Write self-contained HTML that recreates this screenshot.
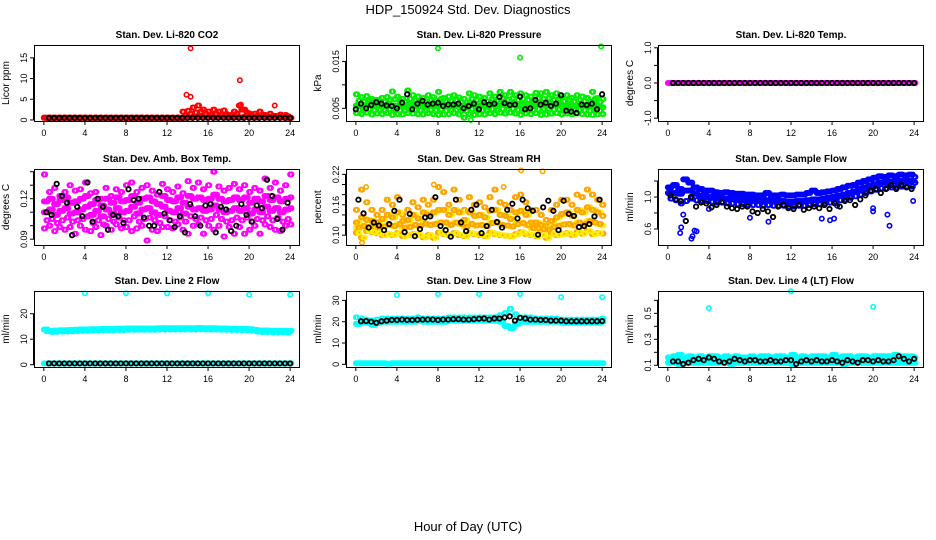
<!DOCTYPE html>
<html><head><meta charset="utf-8"><style>
body{margin:0;background:#fff}
svg{display:block;font-family:"Liberation Sans",Arial,sans-serif}
</style></head><body>
<svg id="c" width="936" height="540">
<text x="468" y="14" font-size="13" text-anchor="middle">HDP_150924  Std. Dev. Diagnostics</text>
<text x="468" y="531" font-size="13" text-anchor="middle">Hour of Day (UTC)</text>
</svg>
<script>
// ---- data (x = 0..24 step 0.5 for 49-value arrays) ----
const co2Base=[0.5,0.5,0.5,0.5,0.5,0.5,0.5,0.5,0.5,0.5,0.5,0.5,0.5,0.5,0.5,0.5,0.5,0.5,0.5,0.5,0.5,0.5,0.5,0.5,0.5,0.5,0.5,0.5,0.6,0.8,0.7,0.6,0.7,0.6,0.7,0.6,0.6,0.7,0.6,0.8,0.6,0.6,0.7,0.6,0.6,0.7,0.6,0.5,0.5];
const co2Hi=[0.6,0.6,0.6,0.6,0.6,0.6,0.6,0.6,0.6,0.6,0.6,0.6,0.6,0.6,0.6,0.6,0.6,0.6,0.6,0.6,0.6,0.6,0.6,0.6,0.6,0.6,0.6,2.0,2.2,3.0,3.5,2.5,2.0,2.5,2.0,2.3,1.2,2.0,3.5,2.5,1.5,1.5,2.0,1.2,1.5,1.0,1.3,1.2,0.5];
const co2Mid=[0.5,0.5,0.5,0.5,0.5,0.5,0.5,0.5,0.5,0.5,0.5,0.5,0.5,0.5,0.5,0.5,0.5,0.5,0.5,0.5,0.5,0.5,0.5,0.5,0.5,0.5,0.5,1.0,1.5,1.8,2.0,1.5,1.2,1.5,1.2,1.4,0.9,1.5,2.5,1.8,1.0,1.0,1.3,0.9,1.0,0.8,1.0,0.9,0.5];
const co2OutX=[14.3,13.9,14.3,19.1,19.2,22.5];
const co2OutY=[17.3,6.1,5.6,9.6,3.7,3.5];
const co2Black=[0.5,0.5,0.5,0.5,0.5,0.5,0.5,0.5,0.5,0.5,0.5,0.5,0.5,0.5,0.5,0.5,0.5,0.5,0.5,0.5,0.5,0.5,0.5,0.5,0.5,0.5,0.5,0.5,0.5,0.5,0.5,0.5,0.5,0.5,0.5,0.5,0.5,0.5,0.5,0.5,0.5,0.5,0.5,0.5,0.5,0.5,0.5,0.5];

const prHi=[0.0080,0.0074,0.0076,0.0070,0.0068,0.0072,0.0074,0.0086,0.0075,0.0070,0.0088,0.0078,0.0075,0.0072,0.0078,0.0074,0.0085,0.0072,0.0075,0.0078,0.0073,0.0070,0.0082,0.0078,0.0075,0.0072,0.0082,0.0075,0.0085,0.0078,0.0085,0.0078,0.0082,0.0078,0.0075,0.0083,0.0082,0.0085,0.0078,0.0082,0.0074,0.0078,0.0072,0.0078,0.0075,0.0072,0.0085,0.0072,0.0070];
const prM1=[0.0066,0.0064,0.0068,0.0062,0.0066,0.0064,0.0068,0.0070,0.0066,0.0063,0.0070,0.0067,0.0066,0.0064,0.0068,0.0066,0.0070,0.0064,0.0066,0.0068,0.0064,0.0062,0.0070,0.0068,0.0066,0.0064,0.0070,0.0066,0.0072,0.0068,0.0072,0.0068,0.0070,0.0068,0.0066,0.0071,0.0070,0.0072,0.0068,0.0070,0.0065,0.0068,0.0064,0.0068,0.0066,0.0064,0.0070,0.0064,0.0062];
const prMid=[0.0056,0.0054,0.0058,0.0055,0.0057,0.0054,0.0058,0.0056,0.0055,0.0053,0.0058,0.0056,0.0055,0.0054,0.0057,0.0055,0.0058,0.0054,0.0055,0.0057,0.0054,0.0052,0.0058,0.0056,0.0055,0.0054,0.0058,0.0055,0.0060,0.0057,0.0060,0.0057,0.0058,0.0057,0.0055,0.0059,0.0058,0.0060,0.0057,0.0058,0.0054,0.0057,0.0054,0.0057,0.0055,0.0054,0.0058,0.0054,0.0052];
const prM2=[0.0047,0.0046,0.0048,0.0046,0.0047,0.0045,0.0048,0.0047,0.0046,0.0045,0.0048,0.0047,0.0046,0.0045,0.0047,0.0046,0.0048,0.0045,0.0046,0.0047,0.0045,0.0044,0.0048,0.0047,0.0046,0.0045,0.0048,0.0046,0.0049,0.0047,0.0049,0.0047,0.0048,0.0047,0.0046,0.0048,0.0048,0.0049,0.0047,0.0048,0.0045,0.0047,0.0045,0.0047,0.0046,0.0045,0.0048,0.0045,0.0044];
const prLo=[0.0040,0.0038,0.0041,0.0037,0.0039,0.0038,0.0040,0.0036,0.0038,0.0037,0.0040,0.0039,0.0038,0.0037,0.0040,0.0038,0.0036,0.0037,0.0038,0.0040,0.0037,0.0030,0.0038,0.0036,0.0038,0.0037,0.0040,0.0038,0.0041,0.0039,0.0041,0.0039,0.0036,0.0039,0.0038,0.0040,0.0036,0.0037,0.0039,0.0040,0.0037,0.0039,0.0037,0.0039,0.0038,0.0037,0.0036,0.0037,0.0038];
const prOutX=[8.0,16.0,23.9,11.2];
const prOutY=[0.0178,0.0158,0.0182,0.0025];
const prBlack=[0.0048,0.0060,0.0050,0.0057,0.0063,0.0060,0.0056,0.0055,0.0050,0.0062,0.0080,0.0048,0.0060,0.0066,0.0058,0.0060,0.0062,0.0055,0.0058,0.0058,0.0060,0.0050,0.0055,0.0060,0.0048,0.0063,0.0058,0.0060,0.0074,0.0061,0.0057,0.0058,0.0075,0.0048,0.0050,0.0068,0.0058,0.0062,0.0055,0.0060,0.0078,0.0045,0.0043,0.0040,0.0058,0.0057,0.0060,0.0048,0.0080];

const tmpMag=[0,0,0,0,0,0,0,0,0,0,0,0,0,0,0,0,0,0,0,0,0,0,0,0,0,0,0,0,0,0,0,0,0,0,0,0,0,0,0,0,0,0,0,0,0,0,0,0,0];
const tmpBlack=[0,0,0,0,0,0,0,0,0,0,0,0,0,0,0,0,0,0,0,0,0,0,0,0,0,0,0,0,0,0,0,0,0,0,0,0,0,0,0,0,0,0,0,0,0,0,0,0,0];

const ambHi=[0.138,0.125,0.128,0.122,0.125,0.130,0.126,0.127,0.132,0.124,0.125,0.120,0.128,0.122,0.127,0.125,0.130,0.132,0.125,0.128,0.130,0.126,0.123,0.131,0.127,0.125,0.129,0.124,0.133,0.128,0.132,0.127,0.130,0.140,0.129,0.126,0.128,0.131,0.127,0.130,0.125,0.128,0.126,0.135,0.128,0.132,0.126,0.130,0.138];
const ambM1=[0.118,0.120,0.116,0.119,0.121,0.117,0.118,0.120,0.122,0.116,0.119,0.115,0.120,0.117,0.121,0.118,0.119,0.122,0.117,0.120,0.121,0.118,0.116,0.122,0.119,0.118,0.121,0.117,0.122,0.120,0.121,0.119,0.120,0.123,0.120,0.118,0.119,0.121,0.119,0.121,0.117,0.120,0.118,0.122,0.119,0.121,0.118,0.120,0.121];
const ambMid=[0.110,0.112,0.108,0.111,0.113,0.109,0.110,0.112,0.114,0.108,0.111,0.107,0.112,0.109,0.113,0.110,0.111,0.114,0.109,0.112,0.113,0.110,0.108,0.114,0.111,0.110,0.113,0.109,0.114,0.112,0.113,0.111,0.112,0.115,0.112,0.110,0.111,0.113,0.111,0.113,0.109,0.112,0.110,0.114,0.111,0.113,0.110,0.112,0.113];
const ambM2=[0.104,0.105,0.102,0.104,0.106,0.103,0.104,0.105,0.107,0.102,0.104,0.101,0.105,0.103,0.106,0.104,0.104,0.107,0.103,0.105,0.106,0.104,0.102,0.107,0.104,0.103,0.106,0.103,0.107,0.105,0.106,0.104,0.105,0.108,0.105,0.103,0.104,0.106,0.104,0.106,0.103,0.105,0.104,0.107,0.104,0.106,0.103,0.105,0.106];
const ambLo=[0.098,0.100,0.096,0.099,0.097,0.099,0.094,0.100,0.097,0.096,0.099,0.093,0.100,0.097,0.101,0.098,0.099,0.096,0.098,0.100,0.089,0.097,0.096,0.099,0.099,0.098,0.101,0.097,0.094,0.100,0.101,0.094,0.100,0.097,0.100,0.092,0.099,0.094,0.099,0.094,0.097,0.100,0.094,0.101,0.099,0.097,0.096,0.100,0.101];
const ambBlack=[0.110,0.108,0.131,0.122,0.117,0.093,0.114,0.107,0.132,0.103,0.120,0.114,0.097,0.108,0.107,0.102,0.127,0.119,0.120,0.106,0.100,0.100,0.125,0.109,0.104,0.099,0.107,0.095,0.116,0.107,0.100,0.115,0.116,0.095,0.114,0.112,0.096,0.100,0.116,0.108,0.103,0.115,0.113,0.134,0.122,0.105,0.097,0.117,0.118];

const rhHi=[0.150,0.190,0.165,0.150,0.140,0.150,0.170,0.160,0.175,0.140,0.150,0.165,0.155,0.170,0.160,0.170,0.195,0.185,0.160,0.190,0.170,0.150,0.175,0.160,0.165,0.155,0.175,0.190,0.165,0.160,0.150,0.175,0.180,0.165,0.150,0.150,0.140,0.130,0.150,0.160,0.170,0.170,0.160,0.180,0.175,0.190,0.180,0.170,0.160];
const rhM1=[0.125,0.135,0.130,0.128,0.125,0.132,0.140,0.135,0.145,0.128,0.130,0.140,0.133,0.145,0.140,0.145,0.150,0.150,0.140,0.150,0.145,0.130,0.145,0.138,0.140,0.135,0.148,0.150,0.140,0.138,0.132,0.145,0.148,0.140,0.125,0.125,0.120,0.118,0.128,0.135,0.142,0.145,0.138,0.150,0.145,0.155,0.150,0.145,0.138];
const rhMid=[0.115,0.118,0.116,0.115,0.114,0.117,0.120,0.118,0.122,0.115,0.116,0.120,0.118,0.123,0.120,0.122,0.125,0.125,0.120,0.125,0.122,0.116,0.122,0.119,0.120,0.118,0.124,0.125,0.120,0.119,0.117,0.122,0.124,0.120,0.114,0.114,0.112,0.111,0.116,0.118,0.121,0.122,0.119,0.125,0.122,0.128,0.125,0.122,0.119];
const rhLo=[0.105,0.095,0.108,0.106,0.104,0.100,0.102,0.100,0.104,0.098,0.100,0.102,0.100,0.096,0.100,0.095,0.105,0.102,0.100,0.104,0.100,0.098,0.104,0.102,0.100,0.098,0.105,0.102,0.100,0.099,0.098,0.102,0.106,0.102,0.100,0.098,0.100,0.095,0.103,0.100,0.102,0.104,0.100,0.106,0.103,0.108,0.102,0.104,0.103];
const rhOutX=[0.6,1.0,16.1,18.2,7.6,14.4];
const rhOutY=[0.085,0.195,0.228,0.226,0.200,0.195];
const rhBlack=[0.170,0.143,0.115,0.125,0.119,0.110,0.122,0.148,0.170,0.106,0.142,0.098,0.112,0.135,0.137,0.175,0.118,0.110,0.097,0.170,0.125,0.108,0.150,0.160,0.104,0.118,0.150,0.126,0.115,0.150,0.162,0.133,0.170,0.153,0.148,0.101,0.155,0.168,0.148,0.110,0.168,0.142,0.138,0.116,0.118,0.122,0.137,0.170,0.118];

const sfHi=[1.12,1.15,1.10,1.22,1.18,1.12,1.10,1.08,1.08,1.06,1.05,1.06,1.05,1.04,1.04,1.03,1.03,1.02,1.02,1.05,1.02,1.02,1.03,1.02,1.02,1.03,1.03,1.05,1.08,1.05,1.06,1.07,1.08,1.10,1.12,1.14,1.15,1.18,1.20,1.22,1.24,1.26,1.25,1.27,1.26,1.28,1.27,1.28,1.25];
const sfMid=[1.05,1.05,1.04,1.08,1.08,1.04,1.02,1.01,1.00,0.99,0.99,0.98,0.98,0.97,0.97,0.96,0.96,0.96,0.95,0.96,0.95,0.95,0.95,0.94,0.94,0.95,0.95,0.96,0.97,0.97,0.98,0.99,1.00,1.02,1.03,1.05,1.07,1.10,1.12,1.14,1.16,1.18,1.18,1.19,1.19,1.20,1.20,1.20,1.18];
const sfLo=[0.98,0.96,0.92,0.95,0.98,0.96,0.95,0.95,0.94,0.93,0.93,0.92,0.92,0.91,0.91,0.90,0.90,0.90,0.89,0.90,0.89,0.89,0.89,0.88,0.88,0.89,0.89,0.90,0.91,0.91,0.92,0.93,0.94,0.96,0.97,0.99,1.01,1.03,1.05,1.07,1.09,1.11,1.11,1.12,1.12,1.13,1.13,1.13,1.12];
const sfOutX=[1.2,1.3,1.5,2.3,2.4,2.6,2.8,8.0,9.8,15.0,15.8,16.2,20.0,20.0,21.4,21.6,23.9,4.0,16.5];
const sfOutY=[0.55,0.62,0.78,0.48,0.51,0.58,0.57,0.74,0.69,0.73,0.71,0.73,0.86,0.82,0.78,0.64,0.95,0.85,0.89];
const sfBlack=[1.02,0.97,0.95,0.70,1.00,0.88,0.93,0.92,0.87,0.90,0.94,0.88,0.86,0.85,0.88,0.88,0.82,0.80,0.85,0.82,0.75,0.88,0.90,0.86,0.85,0.90,0.84,0.86,0.88,0.86,0.90,0.85,0.92,0.88,0.95,0.96,0.90,0.97,1.02,1.08,1.10,1.05,1.10,1.15,1.10,1.15,1.12,1.10,1.12];

const l2Hi=[13.8,13.2,13.4,13.5,13.5,13.6,13.7,13.8,13.8,13.9,13.9,14.0,14.0,14.0,14.1,14.1,14.2,14.2,14.2,14.2,14.2,14.2,14.3,14.3,14.3,14.3,14.3,14.3,14.3,14.3,14.4,14.3,14.3,14.3,14.2,14.2,14.1,14.1,14.0,14.0,13.9,13.6,13.4,13.4,13.3,13.3,13.3,13.2,13.3];
const l2Lo=[13.2,12.8,12.9,13.0,13.0,13.1,13.2,13.3,13.3,13.4,13.4,13.5,13.5,13.5,13.6,13.6,13.7,13.7,13.7,13.7,13.7,13.7,13.8,13.8,13.8,13.8,13.8,13.8,13.8,13.8,13.9,13.8,13.8,13.8,13.7,13.7,13.6,13.6,13.5,13.5,13.4,13.0,12.8,12.8,12.7,12.7,12.7,12.6,12.8];
const l2Base=[0.5,0.5,0.5,0.5,0.5,0.5,0.5,0.5,0.5,0.5,0.5,0.5,0.5,0.5,0.5,0.5,0.5,0.5,0.5,0.5,0.5,0.5,0.5,0.5,0.5,0.5,0.5,0.5,0.5,0.5,0.5,0.5,0.5,0.5,0.5,0.5,0.5,0.5,0.5,0.5,0.5,0.5,0.5,0.5,0.5,0.5,0.5,0.5,0.5];
const l2OutX=[4,8,12,16,20,24];
const l2OutY=[28,28,28,28,27.5,27.5];
const l2Black=[0.5,0.5,0.5,0.5,0.5,0.5,0.5,0.5,0.5,0.5,0.5,0.5,0.5,0.5,0.5,0.5,0.5,0.5,0.5,0.5,0.5,0.5,0.5,0.5,0.5,0.5,0.5,0.5,0.5,0.5,0.5,0.5,0.5,0.5,0.5,0.5,0.5,0.5,0.5,0.5,0.5,0.5,0.5,0.5,0.5,0.5,0.5,0.5,0.5];

const l3Hi=[22,21.5,21,20.5,21,21.5,21.5,21.5,21.5,21.5,21.5,21.5,22,21.5,21.5,21.5,21.5,21.5,22,22,22,22,22,22,22,22,22,22,23,24,26,23.5,22,22,22,21.5,21.5,21.5,21.5,21.5,21,21,21,21,21,21,21,21,21.5];
const l3Lo=[19,19.5,19.5,18.5,19.5,20,20,20,20,20,20,20,20.5,20,20,20,20,20,20.5,20.5,20.5,20.5,20.5,20.5,20.5,20.5,20.5,20.5,20,18,17,19,20,20,20,20,20,20,20,20,19.5,19.5,19.5,19.5,19.5,19.5,19.5,19.5,20];
const l3Base=[0.5,0.5,0.5,0.5,0.5,0.5,0.3,0.5,0.5,0.5,0.5,0.5,0.5,0.5,0.5,0.5,0.5,0.5,0.5,0.5,0.5,0.5,0.5,0.5,0.5,0.5,0.5,0.5,0.5,0.5,0.5,0.5,0.5,0.5,0.5,0.5,0.5,0.5,0.5,0.5,0.5,0.5,0.5,0.5,0.5,0.5,0.5,0.5,0.5];
const l3OutX=[4,8,12,16,20,24];
const l3OutY=[32.5,33,33,33,31.5,31.5];
const l3Black=[20.2,20.3,20.0,19.5,20.2,20.5,20.8,20.8,21.0,20.8,20.8,20.9,21.0,21.0,21.0,20.8,21.0,21.0,21.2,21.2,21.0,21.0,21.2,21.4,21.5,21.0,21.5,21.5,22.0,22.5,20.5,21.8,21.5,21.0,21.0,20.8,20.8,20.5,20.5,20.5,20.2,20.2,20.2,20.2,20.2,20.2,20.2,20.3,20.8];

const l4Hi=[0.16,0.17,0.18,0.16,0.17,0.16,0.17,0.16,0.17,0.17,0.16,0.17,0.16,0.17,0.16,0.16,0.17,0.16,0.17,0.17,0.16,0.17,0.17,0.16,0.18,0.16,0.17,0.16,0.17,0.17,0.17,0.16,0.18,0.16,0.17,0.17,0.16,0.17,0.17,0.16,0.17,0.17,0.17,0.17,0.18,0.17,0.17,0.17,0.16];
const l4Mid=[0.14,0.14,0.14,0.14,0.14,0.14,0.14,0.14,0.14,0.14,0.14,0.14,0.14,0.14,0.14,0.14,0.14,0.14,0.14,0.14,0.14,0.14,0.14,0.14,0.14,0.14,0.14,0.14,0.14,0.14,0.14,0.14,0.14,0.14,0.14,0.14,0.14,0.14,0.14,0.14,0.14,0.14,0.14,0.14,0.15,0.14,0.14,0.14,0.14];
const l4Lo=[0.12,0.12,0.11,0.12,0.12,0.12,0.12,0.12,0.12,0.12,0.12,0.12,0.11,0.12,0.12,0.12,0.12,0.12,0.12,0.12,0.12,0.12,0.12,0.12,0.11,0.12,0.12,0.12,0.12,0.12,0.12,0.12,0.12,0.12,0.11,0.12,0.12,0.12,0.12,0.12,0.12,0.12,0.12,0.12,0.12,0.12,0.12,0.12,0.12];
const l4OutX=[4,12,20];
const l4OutY=[0.54,0.67,0.55];
const l4Black=[0.13,0.13,0.11,0.12,0.14,0.15,0.14,0.16,0.15,0.13,0.12,0.13,0.15,0.14,0.13,0.14,0.14,0.13,0.13,0.14,0.13,0.13,0.14,0.14,0.11,0.13,0.14,0.13,0.14,0.13,0.13,0.14,0.13,0.12,0.14,0.13,0.12,0.14,0.14,0.13,0.14,0.13,0.13,0.14,0.17,0.15,0.13,0.15,0.14];

const NS='http://www.w3.org/2000/svg';
const svg=document.getElementById('c');
const COLS=[34,346,658], ROWS=[45,169,291], PW=266, PH=76;
function mk(tag,attrs,parent){const e=document.createElementNS(NS,tag);for(const k in attrs)e.setAttribute(k,attrs[k]);(parent||svg).appendChild(e);return e;}
function panel(col,row,title,ylab,ymin,ymax,ticks,labels,series){
  const L=COLS[col],T=ROWS[row];
  const g=mk('g',{});
  
  
  const xs=h=>L+(h+0.96)/25.92*PW;
  const ys=v=>T+PH-(v-ymin)/(ymax-ymin)*PH;
  const tt=mk('text',{x:L+PW/2,y:T-7,'font-size':10,'font-weight':'bold','text-anchor':'middle'},g);tt.textContent=title;
  
  
  const yl=mk('text',{x:0,y:0,'font-size':10,'text-anchor':'middle',transform:`translate(${L-25},${T+PH/2}) rotate(-90)`},g);yl.textContent=ylab;
  
  
  const xa=mk('g',{},g);
  
  
  mk('line',{x1:xs(0),x2:xs(24),y1:T+PH+0.5,y2:T+PH+0.5,stroke:'#000'},xa);
  for(let h=0;h<=24;h+=4){
    mk('line',{x1:xs(h),x2:xs(h),y1:T+PH,y2:T+PH+4,stroke:'#000'},xa);
    const t=mk('text',{x:xs(h),y:T+PH+15,'font-size':9,'text-anchor':'middle'},xa);t.textContent=h;
  }
  const ya=mk('g',{},g);
  
  
  mk('line',{x1:L-0.5,x2:L-0.5,y1:ys(ticks[0]),y2:ys(ticks[ticks.length-1]),stroke:'#000'},ya);
  ticks.forEach((v,i)=>{
    mk('line',{x1:L-4,x2:L,y1:ys(v),y2:ys(v),stroke:'#000'},ya);
    if(labels[i]){const t=mk('text',{x:0,y:0,'font-size':9,'text-anchor':'middle',transform:`translate(${L-7},${ys(v)}) rotate(-90)`},ya);t.textContent=labels[i];}
  });
  series.forEach(s=>{
    const black=s.c==='#000';
    const sg=mk('g',{fill:'none',stroke:s.c,'stroke-width':black?1.8:1.6},g);
    
    
    const passes=(s.x||black)?[0]:[0,0.125];
    passes.forEach(dx=>{
      s.y.forEach((v,i)=>{
        const h=s.x?s.x[i]:i*0.5+(s.o||0)+dx;
        if(h>24.2)return;
        mk('circle',{cx:xs(h),cy:ys(v),r:2.2},sg);
      });
    });
  });
  mk('rect',{x:L+0.5,y:T+0.5,width:PW-1,height:PH,fill:'none',stroke:'#000'},g);
}
const R='#ff0000',G='#00ee00',M='#ff00ff',O='#ffa500',Y='#ffee00',B='#0000ff',C='#00ffff',K='#000';
panel(0,0,'Stan. Dev. Li-820 CO2','Licor ppm',-0.25,18.1,[0,5,10,15],['0','5','10','15'],[
 {n:'co2-series',c:R,y:co2Base},{n:'co2-series',c:R,y:co2Base,o:0.25},{n:'co2-series',c:R,y:co2Mid,o:0.25},{n:'co2-series',c:R,y:co2Hi},
 {n:'co2-outliers',c:R,x:co2OutX,y:co2OutY},{n:'co2-black-series',c:K,y:co2Black,o:0.5}]);
panel(1,0,'Stan. Dev. Li-820 Pressure','kPa',0.0023,0.0185,[0.005,0.01,0.015],['0.005','','0.015'],[
 {n:'pressure-series',c:G,y:prHi},{n:'pressure-series',c:G,y:prM1,o:0.25},{n:'pressure-series',c:G,y:prMid},{n:'pressure-series',c:G,y:prM2,o:0.25},{n:'pressure-series',c:G,y:prLo},{n:'pressure-series',c:G,y:prMid,o:0.25},
 {n:'pressure-outliers',c:G,x:prOutX,y:prOutY},{n:'pressure-black-series',c:K,y:prBlack}]);
panel(2,0,'Stan. Dev. Li-820 Temp.','degrees C',-1.08,1.08,[-1,-0.5,0,0.5,1],['-1.0','','0.0','','1.0'],[
 {n:'temp-series',c:M,y:tmpMag},{n:'temp-series',c:M,y:tmpMag,o:0.25},{n:'temp-black-series',c:K,y:tmpBlack,o:0.5}]);
panel(0,1,'Stan. Dev. Amb. Box Temp.','degrees C',0.0857,0.142,[0.09,0.10,0.11,0.12,0.13,0.14],['0.09','','','0.12','',''],[
 {n:'ambient-series',c:M,y:ambHi},{n:'ambient-series',c:M,y:ambM1,o:0.25},{n:'ambient-series',c:M,y:ambMid},{n:'ambient-series',c:M,y:ambM2,o:0.25},{n:'ambient-series',c:M,y:ambLo},{n:'ambient-series',c:M,y:ambM1},{n:'ambient-series',c:M,y:ambMid,o:0.25},
 {n:'ambient-black-series',c:K,y:ambBlack,o:0.25}]);
panel(1,1,'Stan. Dev. Gas Stream RH','percent',0.0806,0.2306,[0.10,0.12,0.14,0.16,0.18,0.20,0.22],['0.10','','','0.16','','','0.22'],[
 {n:'rh-series',c:O,y:rhHi},{n:'rh-series',c:Y,y:rhM1,o:0.25},{n:'rh-series',c:O,y:rhM1},{n:'rh-series',c:Y,y:rhMid},{n:'rh-series',c:O,y:rhMid,o:0.25},{n:'rh-series',c:O,y:rhLo},{n:'rh-series',c:Y,y:rhLo,o:0.25},
 {n:'rh-outliers',c:O,x:rhOutX,y:rhOutY},{n:'rh-black-series',c:K,y:rhBlack,o:0.25}]);
panel(2,1,'Stan. Dev. Sample Flow','ml/min',0.40,1.35,[0.6,0.8,1.0,1.2],['0.6','','1.0',''],[
 {n:'flow-series',c:B,y:sfHi},{n:'flow-series',c:B,y:sfMid,o:0.25},{n:'flow-series',c:B,y:sfMid},{n:'flow-series',c:B,y:sfLo,o:0.25},{n:'flow-series',c:B,y:sfHi,o:0.25},
 {n:'flow-outliers',c:B,x:sfOutX,y:sfOutY},{n:'flow-black-series',c:K,y:sfBlack,o:0.25}]);
panel(0,2,'Stan. Dev. Line 2 Flow','ml/min',-0.9,28.9,[0,10,20],['0','10','20'],[
 {n:'line2-series',c:C,y:l2Hi},{n:'line2-series',c:C,y:l2Lo,o:0.25},{n:'line2-series',c:C,y:l2Hi,o:0.25},{n:'line2-series',c:C,y:l2Base},{n:'line2-series',c:C,y:l2Base,o:0.25},
 {n:'line2-outliers',c:C,x:l2OutX,y:l2OutY},{n:'line2-black-series',c:K,y:l2Black,o:0.5}]);
panel(1,2,'Stan. Dev. Line 3 Flow','ml/min',-1.25,34.4,[0,10,20,30],['0','10','20','30'],[
 {n:'line3-series',c:C,y:l3Hi},{n:'line3-series',c:C,y:l3Lo,o:0.25},{n:'line3-series',c:C,y:l3Lo},{n:'line3-series',c:C,y:l3Base},{n:'line3-series',c:C,y:l3Base,o:0.25},
 {n:'line3-outliers',c:C,x:l3OutX,y:l3OutY},{n:'line3-black-series',c:K,y:l3Black,o:0.5}]);
panel(2,2,'Stan. Dev. Line 4 (LT) Flow','ml/min',0.087,0.672,[0.1,0.2,0.3,0.4,0.5,0.6],['0.1','','0.3','','0.5',''],[
 {n:'line4-series',c:C,y:l4Hi},{n:'line4-series',c:C,y:l4Mid,o:0.25},{n:'line4-series',c:C,y:l4Lo},{n:'line4-series',c:C,y:l4Hi,o:0.25},{n:'line4-series',c:C,y:l4Lo,o:0.25},
 {n:'line4-outliers',c:C,x:l4OutX,y:l4OutY},{n:'line4-black-series',c:K,y:l4Black,o:0.5}]);
</script>
</body></html>
